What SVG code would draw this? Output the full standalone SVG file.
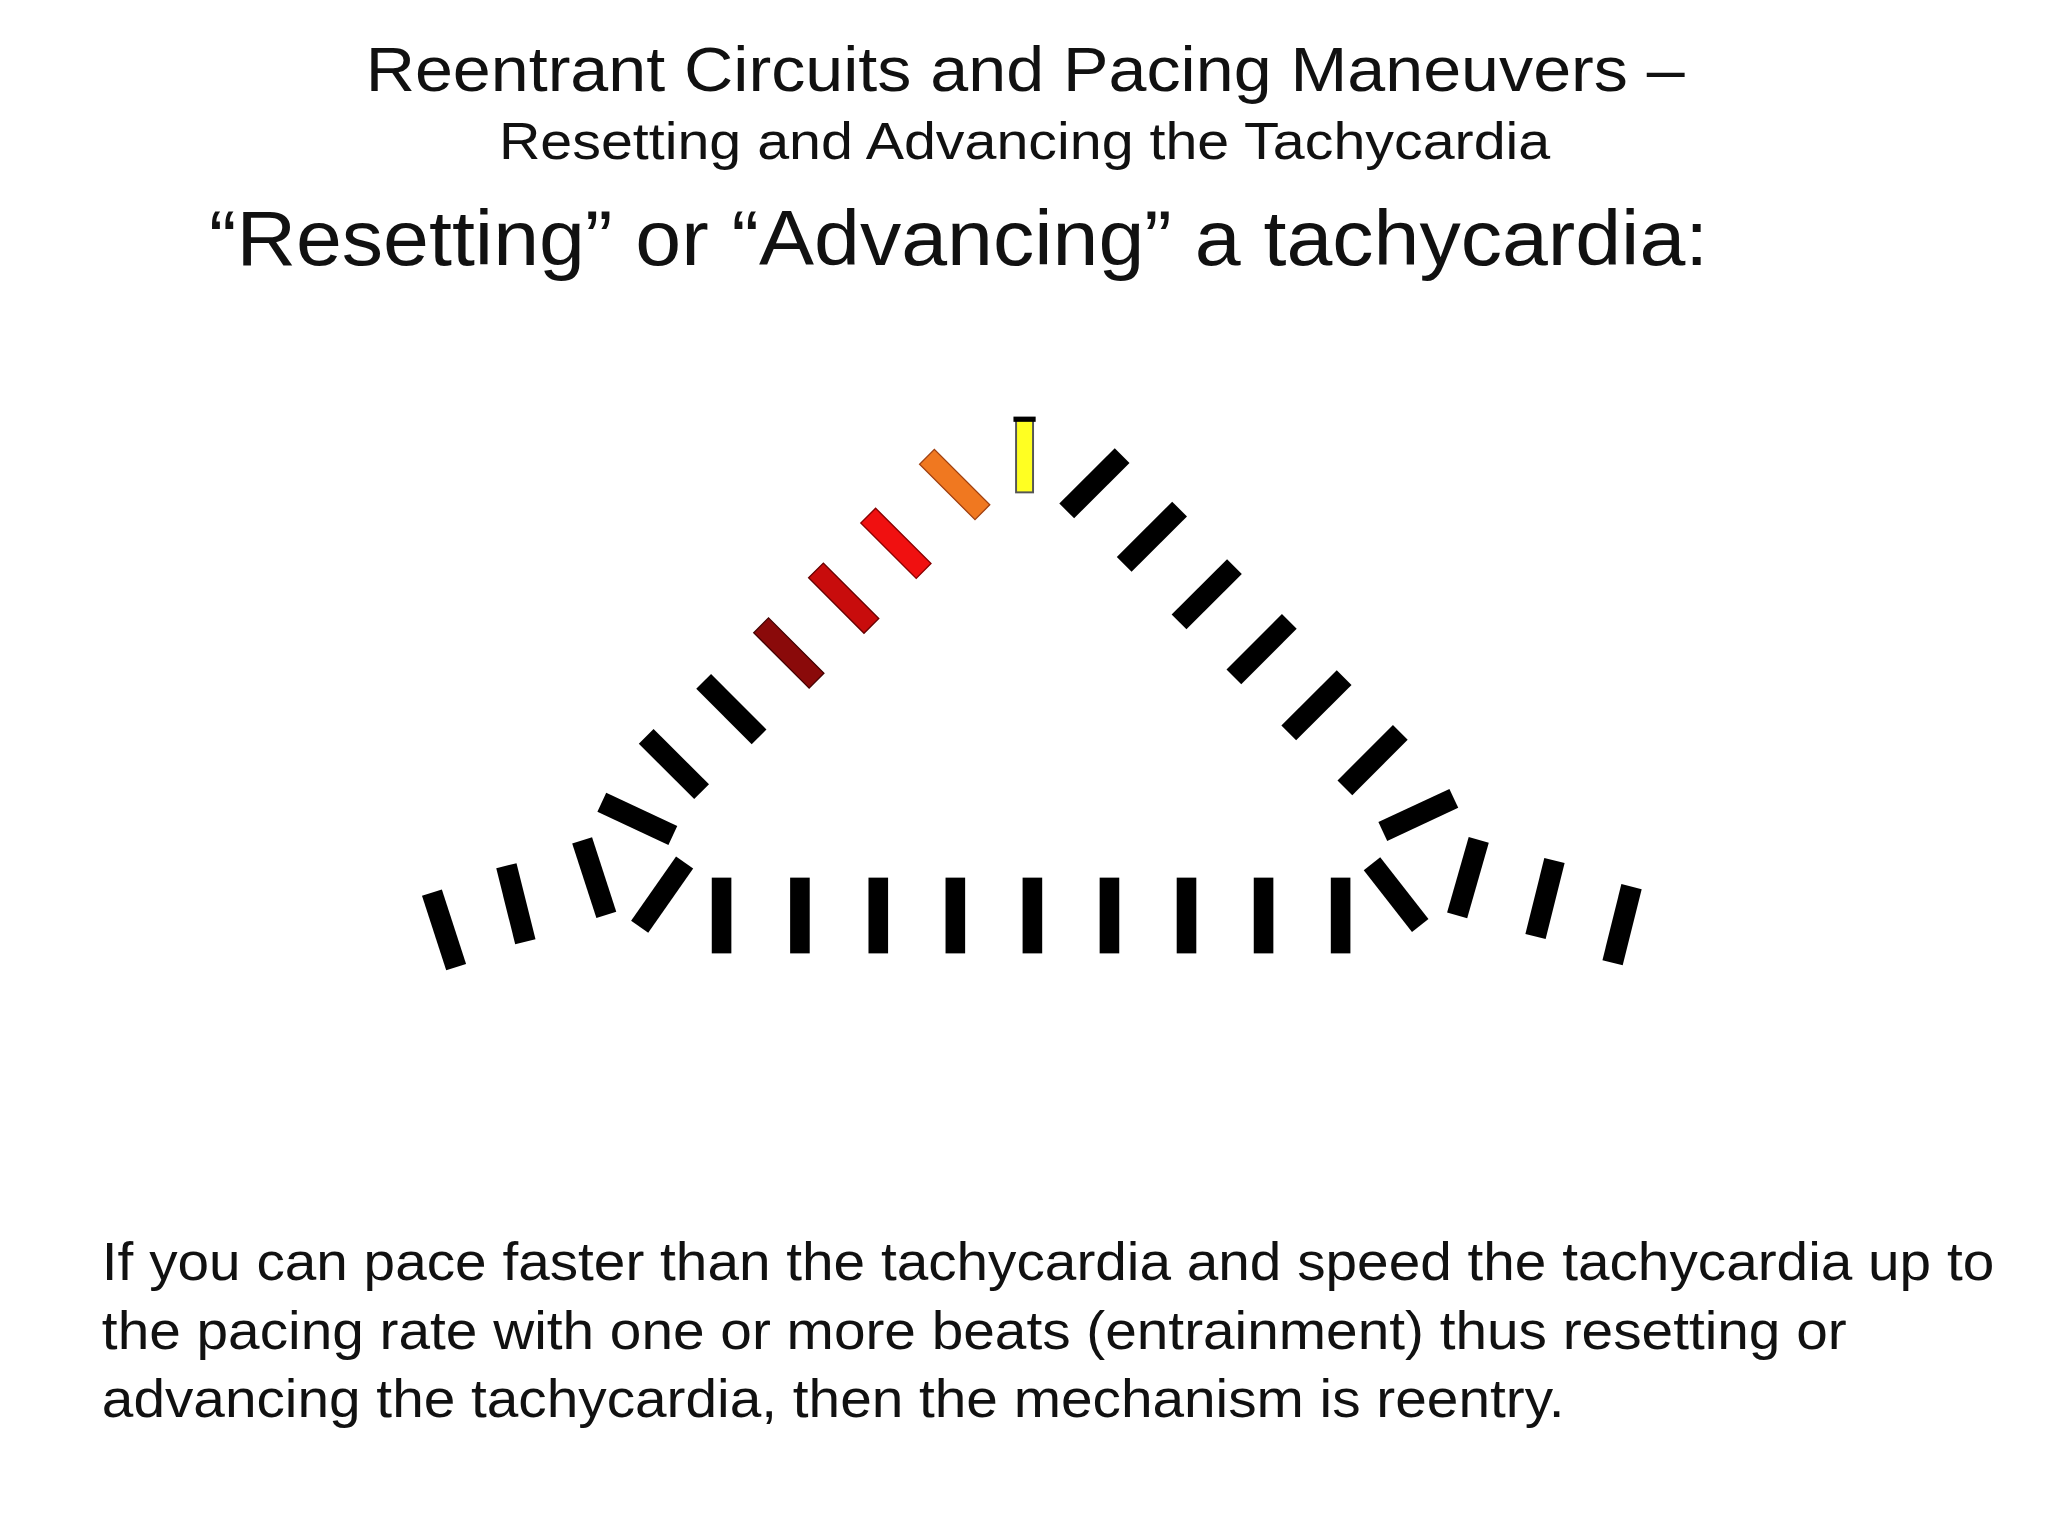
<svg xmlns="http://www.w3.org/2000/svg" width="2048" height="1536" viewBox="0 0 2048 1536">
<style>
text{font-family:"Liberation Sans",Arial,sans-serif;fill:#111}
.b{fill:#000}
</style>
<defs><rect id="bar" x="-8" y="-30" width="16" height="60"/></defs>
<rect width="2048" height="1536" fill="#fff"/>
<g transform="scale(1.306)">
<g id="titles">
<text x="280" y="70" font-size="48" textLength="1010" lengthAdjust="spacingAndGlyphs">Reentrant Circuits and Pacing Maneuvers –</text>
<text x="382" y="122" font-size="40" textLength="805" lengthAdjust="spacingAndGlyphs">Resetting and Advancing the Tachycardia</text>
<text x="160" y="203" font-size="60" textLength="1148" lengthAdjust="spacingAndGlyphs">“Resetting” or “Advancing” a tachycardia:</text>
</g>
<g id="bars">
<rect x="778" y="321" width="13" height="56" fill="#ffff22" stroke="#555" stroke-width="1.5"/>
<rect x="776" y="319" width="17" height="4" fill="#000"/>
<use href="#bar" transform="translate(731,371) rotate(-45)" fill="#f07820" stroke="#a04010" stroke-width="1"/>
<use href="#bar" transform="translate(686,416) rotate(-45)" fill="#f01010" stroke="#800" stroke-width="1"/>
<use href="#bar" transform="translate(646,458) rotate(-45)" fill="#c80c0c" stroke="#600" stroke-width="1"/>
<use href="#bar" transform="translate(604,500) rotate(-45)" fill="#8a0a0a" stroke="#400" stroke-width="1"/>
<g class="b">
<use href="#bar" transform="translate(560,543) rotate(-45)"/>
<use href="#bar" transform="translate(516,585) rotate(-45)"/>
<use href="#bar" transform="translate(488,627) rotate(-65)"/>
<use href="#bar" transform="translate(455,672) rotate(-18)"/>
<use href="#bar" transform="translate(395,692) rotate(-14)"/>
<use href="#bar" transform="translate(340,712) rotate(-18)"/>
<use href="#bar" transform="translate(507,685) rotate(35)"/>
<use href="#bar" transform="translate(838,370) rotate(45)"/>
<use href="#bar" transform="translate(882,411) rotate(45)"/>
<use href="#bar" transform="translate(924,455) rotate(45)"/>
<use href="#bar" transform="translate(966,497) rotate(45)"/>
<use href="#bar" transform="translate(1008,540) rotate(45)"/>
<use href="#bar" transform="translate(1051,582) rotate(45)"/>
<use href="#bar" transform="translate(1086,624) rotate(65)"/>
<use href="#bar" transform="translate(1124,672) rotate(16)"/>
<use href="#bar" transform="translate(1183,688) rotate(14)"/>
<use href="#bar" transform="translate(1242,708) rotate(14)"/>
<use href="#bar" transform="translate(1069,685) rotate(-38)"/>
<rect x="545" y="672" width="15" height="58"/>
<rect x="605" y="672" width="15" height="58"/>
<rect x="665" y="672" width="15" height="58"/>
<rect x="724" y="672" width="15" height="58"/>
<rect x="783" y="672" width="15" height="58"/>
<rect x="842" y="672" width="15" height="58"/>
<rect x="901" y="672" width="15" height="58"/>
<rect x="960" y="672" width="15" height="58"/>
<rect x="1019" y="672" width="15" height="58"/>
</g>
</g>
<g id="body">
<text x="78" y="980" font-size="41" textLength="1449" lengthAdjust="spacingAndGlyphs">If you can pace faster than the tachycardia and speed the tachycardia up to</text>
<text x="78" y="1033" font-size="41" textLength="1336" lengthAdjust="spacingAndGlyphs">the pacing rate with one or more beats (entrainment) thus resetting or</text>
<text x="78" y="1085" font-size="41" textLength="1120" lengthAdjust="spacingAndGlyphs">advancing the tachycardia, then the mechanism is reentry.</text>
</g>
</g>
</svg>
